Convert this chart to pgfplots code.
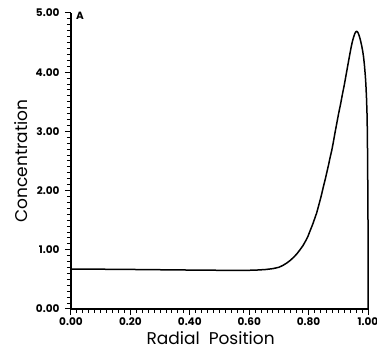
\documentclass[border=0pt]{standalone}
\usepackage{pgfplots}
\pgfplotsset{compat=1.18}
\usepackage{fontspec}
\setmainfont{Poppins}
\begin{document}
\begin{tikzpicture}
\useasboundingbox (-71pt,-43pt) rectangle (306pt,309pt);
\begin{axis}[
  at={(0,0)}, anchor=south west,
  scale only axis,
  width=297pt, height=296pt,
  xmin=0, xmax=1, ymin=0, ymax=5,
  axis lines=left,
  axis line style={-, line width=1.1pt},
  xtick={0,0.2,0.4,0.6,0.8,1.0},
  ytick={0,1,2,3,4,5},
  minor tick num=9,
  tick align=outside,
  major tick length=6pt,
  minor tick length=4pt,
  tick style={black, line width=1pt},
  /pgf/number format/assume math mode=true,
  xticklabel style={/pgf/number format/fixed, /pgf/number format/fixed zerofill, /pgf/number format/precision=2, font=\fontsize{10.5}{10}\selectfont\bfseries, yshift=1pt},
  yticklabel style={/pgf/number format/fixed, /pgf/number format/fixed zerofill, /pgf/number format/precision=2, font=\fontsize{10.5}{10}\selectfont\bfseries, xshift=-2pt},
  xlabel={Radial\ \ Position},
  ylabel={Concentration},
  label style={font=\fontsize{17}{20}\selectfont},
  xlabel style={at={(axis description cs:0.47,-0.098)}, anchor=center},
  ylabel style={at={(axis description cs:-0.167,0.5)}, anchor=center, rotate=0},
  clip=false,
]
\addplot[black, line width=1.5pt, line join=round] coordinates {
(0,0.675) (0.1,0.672) (0.2,0.668) (0.3,0.663) (0.4,0.658) (0.5,0.654) (0.56,0.652)
(0.6,0.654) (0.63,0.659) (0.655,0.667) (0.68,0.682) (0.70,0.705) (0.713,0.735) (0.726,0.775) (0.738,0.82) (0.75,0.875) (0.761,0.935) (0.771,1.00)
(0.781,1.07) (0.79,1.15) (0.798,1.23) (0.805,1.32) (0.813,1.42) (0.82,1.52) (0.827,1.62) (0.833,1.73) (0.842,1.90) (0.85,2.07) (0.856,2.19) (0.861,2.30)
(0.867,2.43) (0.872,2.55) (0.878,2.68) (0.883,2.81) (0.889,2.98) (0.895,3.14) (0.901,3.30) (0.908,3.47) (0.914,3.63) (0.920,3.78) (0.925,3.92) (0.930,4.06)
(0.935,4.20) (0.939,4.31) (0.944,4.44) (0.948,4.53) (0.952,4.60) (0.955,4.645) (0.958,4.675) (0.961,4.69) (0.964,4.685) (0.967,4.66) (0.970,4.62) (0.973,4.57)
(0.976,4.51) (0.979,4.44) (0.982,4.36) (0.985,4.26) (0.988,4.12) (0.991,3.94) (0.993,3.78) (0.995,3.56) (0.997,3.25) (0.998,2.9)
(0.999,2.3) (1.0,1.5) (1.0,0)
};
\node[anchor=north west, font=\fontsize{10.5}{10}\selectfont\bfseries, inner sep=0pt] at (rel axis cs:0,1) [xshift=5pt, yshift=1pt] {A};
\end{axis}
\end{tikzpicture}
\end{document}
